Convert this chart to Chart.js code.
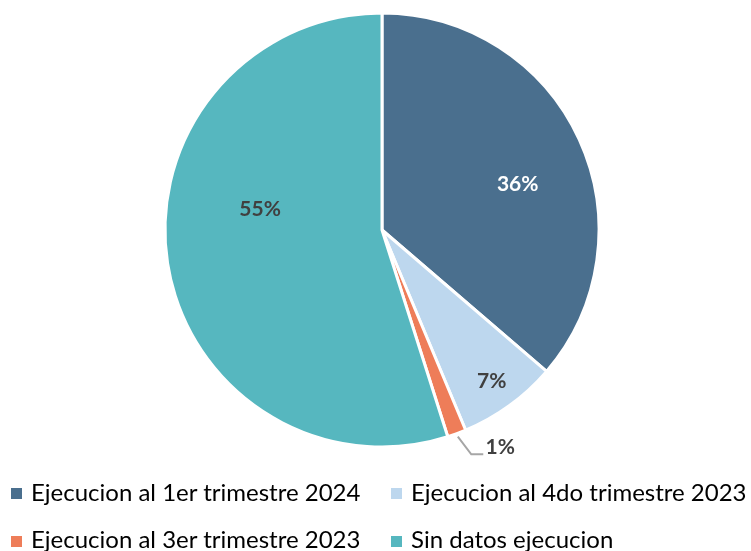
<!DOCTYPE html>
<html lang="es">
<head>
<meta charset="utf-8">
<title>Ejecucion</title>
<script src="https://cdn.jsdelivr.net/npm/chart.js@4.4.1/dist/chart.umd.min.js"></script>
<style>
    html, body { margin: 0; padding: 0; background: #fff; overflow: hidden; }
    #wrap { position: relative; width: 751px; height: 551px; }
    #legend { position: absolute; left: 11px; top: 477.5px; width: 740px; font-family: Lato, "Open Sans", sans-serif; font-size: 24px; color: #000; }
    .legend-row { display: flex; height: 47.5px; }
    .legend-item { display: flex; align-items: flex-start; white-space: nowrap; }
    .legend-item:first-child { width: 380px; }
    .legend-box { width: 11px; height: 11px; margin-top: 10.5px; margin-right: 9px; flex: none; }
    .legend-text { line-height: 28px; }
</style>
</head>
<body>
<div id="wrap">
    <canvas id="pieChart" width="751" height="551"></canvas>
    <div id="legend"></div>
</div>
<script>
// Donnees du graphique
const categories = ['Ejecucion al 1er trimestre 2024', 'Ejecucion al 4do trimestre 2023', 'Ejecucion al 3er trimestre 2023', 'Sin datos ejecucion'];
const shares = [36.3, 7.4, 1.4, 54.9];
const percentLabels = ['36%', '7%', '1%', '55%'];
const sliceColors = ['#4A6F8E', '#BDD7EE', '#EE7D59', '#56B7BF'];
const labelColors = ['#FFFFFF', '#404040', '#404040', '#404040'];
// position des etiquettes : rayon relatif et decalage d'angle (degres)
const labelRadius = [0.66, 0.86, 1.14, 0.57];
const labelTurn = [6, 0, -8.4, 18.6];

// Etiquettes de donnees (style Excel)
const pieLabels = {
    id: 'pieLabels',
    afterDatasetsDraw(chart) {
        const ctx = chart.ctx;
        const meta = chart.getDatasetMeta(0);
        ctx.save();
        ctx.font = 'bold 21px Lato, "Open Sans", sans-serif';
        ctx.textAlign = 'center';
        ctx.textBaseline = 'middle';
        meta.data.forEach((arc, i) => {
            const p = arc.getProps(['x', 'y', 'startAngle', 'endAngle', 'outerRadius'], true);
            const mid = (p.startAngle + p.endAngle) / 2;
            const a = mid + labelTurn[i] * Math.PI / 180;
            const r = p.outerRadius * labelRadius[i];
            const lx = p.x + Math.cos(a) * r;
            const ly = p.y + Math.sin(a) * r;
            if (labelRadius[i] > 1) {
                // ligne de rappel
                ctx.strokeStyle = '#A6A6A6';
                ctx.lineWidth = 2;
                ctx.beginPath();
                ctx.moveTo(p.x + Math.cos(mid) * (p.outerRadius + 3), p.y + Math.sin(mid) * (p.outerRadius + 3));
                ctx.lineTo(lx - 29, ly + 7);
                ctx.lineTo(lx - 17, ly + 7);
                ctx.stroke();
            }
            ctx.fillStyle = labelColors[i];
            ctx.fillText(percentLabels[i], lx, ly);
        });
        ctx.restore();
    }
};

const ctx1 = document.getElementById('pieChart').getContext('2d');
new Chart(ctx1, {
    type: 'pie',
    data: {
        labels: categories,
        datasets: [{
            data: shares,
            backgroundColor: sliceColors,
            borderColor: '#FFFFFF',
            borderWidth: 3
        }]
    },
    options: {
        responsive: false,
        animation: false,
        radius: 217,
        layout: { padding: { left: 100, right: 87, top: 10, bottom: 101 } },
        plugins: {
            legend: { display: false },
            tooltip: { enabled: false }
        }
    },
    plugins: [pieLabels]
});

// Legende HTML en deux colonnes
const legend = document.getElementById('legend');
for (let r = 0; r < categories.length; r += 2) {
    const row = document.createElement('div');
    row.className = 'legend-row';
    for (let i = r; i < Math.min(r + 2, categories.length); i++) {
        const item = document.createElement('div');
        item.className = 'legend-item';
        const box = document.createElement('span');
        box.className = 'legend-box';
        box.style.background = sliceColors[i];
        const text = document.createElement('span');
        text.className = 'legend-text';
        text.textContent = categories[i];
        item.appendChild(box);
        item.appendChild(text);
        row.appendChild(item);
    }
    legend.appendChild(row);
}
</script>
</body>
</html>
